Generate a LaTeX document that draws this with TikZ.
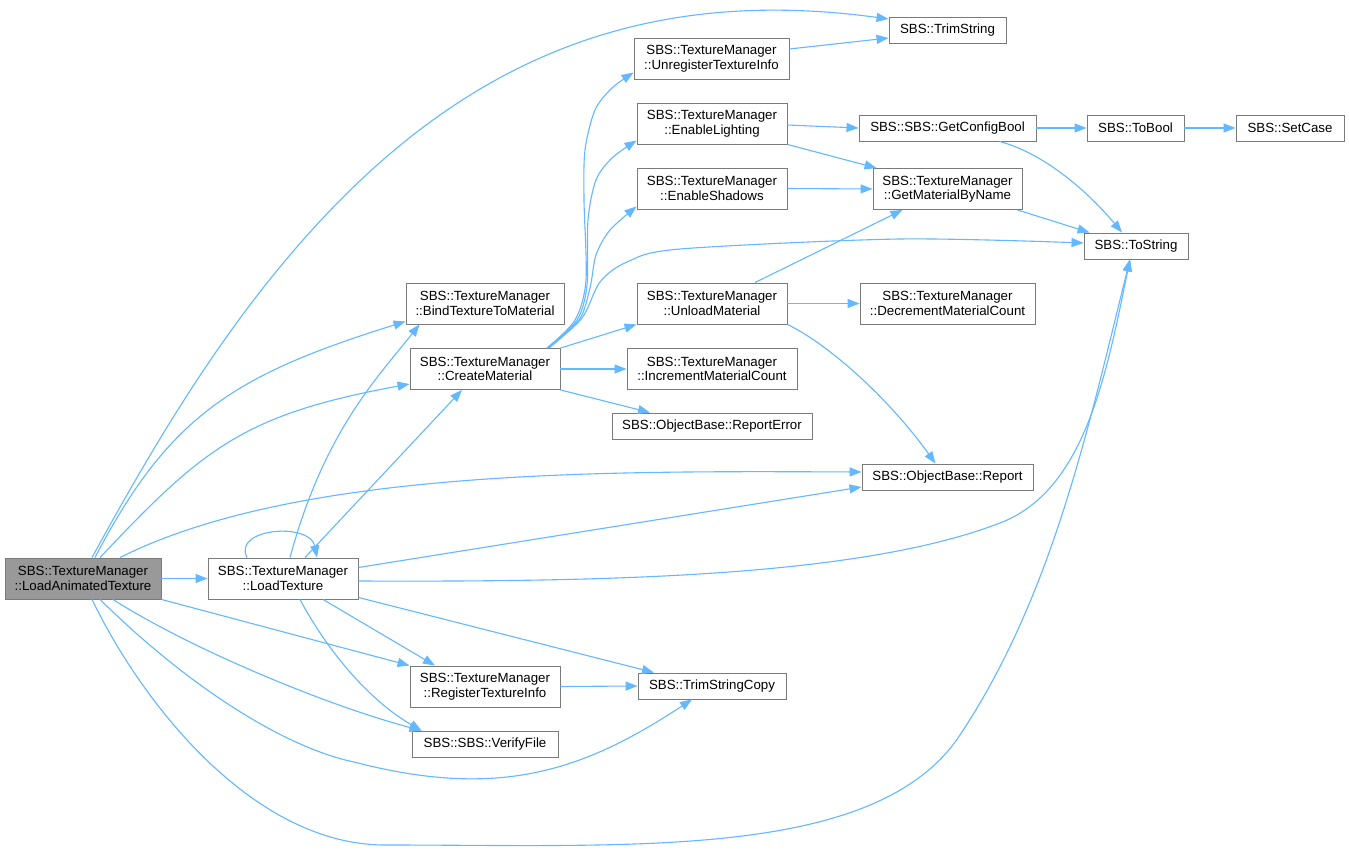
\documentclass[tikz,border=0pt]{standalone}
\usepackage{fontspec}
\setmainfont{Liberation Sans}
\usetikzlibrary{arrows.meta}
\definecolor{edgeblue}{HTML}{63B8FF}
\definecolor{boxline}{HTML}{7A7A7A}
\definecolor{lgray}{HTML}{999999}
\begin{document}
\begin{tikzpicture}[x=1pt,y=-1pt,
  box/.style={draw=boxline, fill=white, line width=0.9pt, minimum height=41pt, inner sep=0pt, align=center, font=\fontsize{13.3}{14.5}\selectfont},
  sbox/.style={box, minimum height=26pt},
  e/.style={draw=edgeblue, line width=1.1pt, -{Triangle[length=12pt,width=9pt]}}]
\useasboundingbox[fill=white] (0,0) rectangle (1349,850);

\node[box, fill=lgray, minimum width=156pt] (lat) at (83,578.5) {SBS::TextureManager\\::LoadAnimatedTexture};
\node[box, minimum width=150pt] (lt) at (283,578.5) {SBS::TextureManager\\::LoadTexture};
\node[sbox, minimum width=117pt] (ts) at (947.5,30) {SBS::TrimString};
\node[box, minimum width=155pt] (unreg) at (711.5,58.5) {SBS::TextureManager\\::UnregisterTextureInfo};
\node[box, minimum width=150pt] (el) at (712,123.5) {SBS::TextureManager\\::EnableLighting};
\node[sbox, minimum width=177pt] (gcb) at (947.5,128) {SBS::SBS::GetConfigBool};
\node[sbox, minimum width=97pt] (tb) at (1135.5,128) {SBS::ToBool};
\node[sbox, minimum width=108pt] (sc) at (1290,128) {SBS::SetCase};
\node[box, minimum width=150pt] (es) at (712,188.5) {SBS::TextureManager\\::EnableShadows};
\node[box, minimum width=149pt] (gmbn) at (947.5,189) {SBS::TextureManager\\::GetMaterialByName};
\node[sbox, minimum width=104pt] (tos) at (1136,246) {SBS::ToString};
\node[box, minimum width=158pt] (bind) at (485,303.5) {SBS::TextureManager\\::BindTextureToMaterial};
\node[box, minimum width=150pt] (um) at (712,303.5) {SBS::TextureManager\\::UnloadMaterial};
\node[box, minimum width=175pt] (dec) at (947.5,303.5) {SBS::TextureManager\\::DecrementMaterialCount};
\node[box, minimum width=150pt] (cm) at (485,369) {SBS::TextureManager\\::CreateMaterial};
\node[box, minimum width=170pt] (inc) at (712,369) {SBS::TextureManager\\::IncrementMaterialCount};
\node[sbox, minimum width=200pt] (re) at (712,426) {SBS::ObjectBase::ReportError};
\node[sbox, minimum width=171pt] (rep) at (947.5,477) {SBS::ObjectBase::Report};
\node[box, minimum width=150pt] (reg) at (485,686.5) {SBS::TextureManager\\::RegisterTextureInfo};
\node[sbox, minimum width=148pt] (tsc) at (712,686) {SBS::TrimStringCopy};
\node[sbox, minimum width=146pt] (vf) at (485,744) {SBS::SBS::VerifyFile};

% LoadAnimatedTexture
\draw[e] (lat.east) -- (lt.west);
\draw[e] ([xshift=9pt]lat.north) .. controls (153,446) and (219,335) .. (303,240)
         .. controls (468,52.5) and (651,-13.4) .. ([yshift=11pt]ts.west);
\draw[e] ([xshift=12pt]lat.north) .. controls (169,415.6) and (234,375) .. ([yshift=3pt]bind.south west);
\draw[e] ([xshift=17pt]lat.north) .. controls (203,448.5) and (243,414.6) .. ([yshift=-15pt]cm.west);
\draw[e] ([xshift=37pt]lat.north) .. controls (298,468) and (612,471) .. ([yshift=5pt]rep.west);
\draw[e] (lat.south east) -- (reg.north west);
\draw[e] ([xshift=30pt]lat.south) .. controls (189,648) and (325,705) .. ([xshift=10pt]vf.north west);
\draw[e] ([xshift=17pt]lat.south) .. controls (192,690) and (287,748) .. (354,762)
         .. controls (500,800) and (584,770.5) .. ([xshift=-20pt]tsc.south);
\draw[e] ([xshift=9pt]lat.south) .. controls (144,707) and (255,845) .. (385,845)
         .. controls (635,845) and (877,860) .. (960,735)
         .. controls (1053.5,594) and (1089,424) .. ([xshift=-6pt]tos.south);

% LoadTexture
\draw[e] ([xshift=-36pt]lt.north) .. controls (232,528) and (310,522) .. ([xshift=34pt]lt.north);
\draw[e] ([xshift=7pt]lt.north) .. controls (324,432) and (376.6,378.6) .. ([xshift=14pt]bind.south west);
\draw[e] ([xshift=22pt]lt.north) -- ([xshift=-23pt]cm.south);
\draw[e] ([yshift=11pt]lt.east) -- ([yshift=-10pt]rep.west);
\draw[e] ([yshift=-2.5pt]lt.east) .. controls (608,582) and (860,577) .. (1000,523)
         .. controls (1084,491) and (1106,377) .. ([xshift=-6pt]tos.south);
\draw[e] ([yshift=2pt]lt.south east) -- ([xshift=-58pt]tsc.north);
\draw[e] ([xshift=40pt]lt.south) -- ([xshift=-50pt]reg.north);
\draw[e] ([xshift=17pt]lt.south) .. controls (328,652) and (370,701) .. ([xshift=10pt]vf.north west);

% CreateMaterial
\draw[e] plot[smooth] coordinates {([xshift=62pt]cm.north) (575,320) (586,280) (584,200) (585,150) (595,110) (612,88) ([yshift=-14pt]unreg.west)};
\draw[e] plot[smooth] coordinates {([xshift=62pt]cm.north) (577,320) (587,285) (588,220) (596,180) (612,158) ([yshift=-17pt]el.west)};
\draw[e] plot[smooth] coordinates {([xshift=62pt]cm.north) (579,320) (590,288) (596,255) (610,230) ([yshift=-18pt]es.west)};
\draw[e] plot[smooth] coordinates {([xshift=64pt]cm.north) (582,318) (600,282) (627,262) (680,249) (900,239) ([yshift=3pt]tos.west)};
\draw[e] (cm.north east) -- (um.south west);
\draw[e] (cm.east) -- (inc.west);
\draw[e] (cm.south east) -- ([xshift=-62pt]re.north);

% others
\draw[e] ([yshift=9.5pt]unreg.east) -- ([yshift=-8pt]ts.west);
\draw[e] ([yshift=-1.5pt]el.east) -- (gcb.west);
\draw[e] (el.south east) -- ([xshift=4pt]gmbn.north west);
\draw[e] (es.east) -- (gmbn.west);
\draw[e] (gcb.east) -- (tb.west);
\draw[e] (tb.east) -- (sc.west);
\draw[e] ([xshift=52pt]gcb.south) .. controls (1050,155) and (1095,200) .. ([xshift=-14pt]tos.north);
\draw[e] ([xshift=-5pt]gmbn.south east) -- ([xshift=6pt]tos.north west);
\draw[e] ([xshift=43pt]um.north) -- ([xshift=-45pt]gmbn.south);
\draw[e] (um.east) -- (dec.west);
\draw[e] (um.south east) .. controls (830,345) and (890,400) .. ([xshift=-12pt]rep.north);
\draw[e] (reg.east) -- (tsc.west);
\end{tikzpicture}
\end{document}
